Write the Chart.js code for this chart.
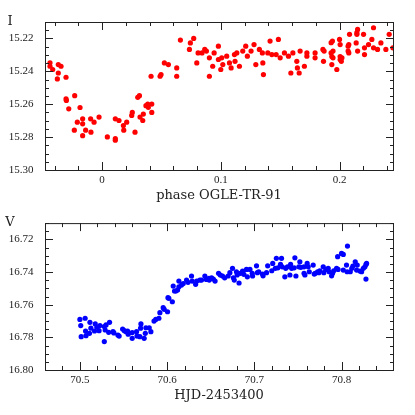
<!DOCTYPE html>
<html>
<head>
<meta charset="utf-8">
<script src="https://cdn.jsdelivr.net/npm/chart.js@4.4.1/dist/chart.umd.min.js"></script>
<style>
  html, body { margin: 0; padding: 0; background: #fff; }
  #wrap { position: relative; width: 415px; height: 415px; }
  canvas { position: absolute; left: 0; }
  #top { top: 0; }
  #bottom { top: 205px; }
</style>
</head>
<body>
<div id="wrap">
  <canvas id="top" width="415" height="205"></canvas>
  <canvas id="bottom" width="415" height="210"></canvas>
</div>
<script>
// I band, folded on the OGLE-TR-91 phase
const phase = [
  -0.0438, -0.0438, -0.0415, -0.0368, -0.0345, -0.0368, -0.0376, -0.0303, -0.0303, -0.0300,
  -0.0280, -0.0230, -0.0185, -0.0208, -0.0233, -0.0163, -0.0163, -0.0163, -0.0138, -0.0096,
  -0.0093, -0.0067, -0.0025, 0.0045, 0.0112, 0.0112, 0.0112, 0.0143, 0.0180, 0.0183,
  0.0208, 0.0250, 0.0255, 0.0278, 0.0301, 0.0315, 0.0320, 0.0348, 0.0343, 0.0370,
  0.0385, 0.0390, 0.0419, 0.0419, 0.0413, 0.0489, 0.0497, 0.0525, 0.0559, 0.0629,
  0.0629, 0.0660, 0.0736, 0.0744, 0.0772, 0.0798, 0.0809, 0.0842, 0.0865, 0.0879,
  0.0904, 0.0904, 0.0932, 0.0944, 0.0980, 0.0980, 0.1000, 0.1008, 0.1017, 0.1050,
  0.1073, 0.1087, 0.1115, 0.1135, 0.1120, 0.1157, 0.1185, 0.1210, 0.1224, 0.1255,
  0.1280, 0.1295, 0.1325, 0.1350, 0.1354, 0.1359, 0.1396, 0.1415, 0.1430, 0.1466,
  0.1485, 0.1500, 0.1536, 0.1570, 0.1590, 0.1607, 0.1640, 0.1645, 0.1660, 0.1668,
  0.1704, 0.1725, 0.1725, 0.1794, 0.1794, 0.1860, 0.1870, 0.1865, 0.1929, 0.1940,
  0.1929, 0.1945, 0.1935, 0.1945, 0.1935, 0.1977, 0.2000, 0.2005, 0.2005, 0.2020,
  0.2005, 0.2015, 0.2072, 0.2078, 0.2084, 0.2072, 0.2078, 0.2146, 0.2146, 0.2152,
  0.2140, 0.2152, 0.2202, 0.2210, 0.2210, 0.2244, 0.2272, 0.2286, 0.2286, 0.2320,
  0.2348, 0.2390, 0.2418, 0.2449
]
const magI = [
  15.2348, 15.2369, 15.2389, 15.2359, 15.2369, 15.2410, 15.2446, 15.2436, 15.2568, 15.2577,
  15.2628, 15.2548, 15.2620, 15.2709, 15.2758, 15.2689, 15.2719, 15.2791, 15.2758, 15.2689,
  15.2770, 15.2709, 15.2678, 15.2799, 15.2809, 15.2819, 15.2689, 15.2699, 15.2730, 15.2758,
  15.2709, 15.2668, 15.2650, 15.2770, 15.2558, 15.2548, 15.2678, 15.2660, 15.2699, 15.2609,
  15.2599, 15.2619, 15.2599, 15.2650, 15.2430, 15.2430, 15.2420, 15.2349, 15.2359, 15.2379,
  15.2430, 15.2210, 15.2267, 15.2227, 15.2200, 15.2349, 15.2288, 15.2288, 15.2267, 15.2277,
  15.2318, 15.2430, 15.2369, 15.2288, 15.2247, 15.2328, 15.2389, 15.2318, 15.2359, 15.2308,
  15.2349, 15.2379, 15.2298, 15.2288, 15.2339, 15.2369, 15.2277, 15.2247, 15.2308, 15.2277,
  15.2237, 15.2359, 15.2267, 15.2288, 15.2349, 15.2420, 15.2288, 15.2216, 15.2298, 15.2298,
  15.2206, 15.2318, 15.2288, 15.2308, 15.2410, 15.2288, 15.2339, 15.2379, 15.2410, 15.2277,
  15.2369, 15.2288, 15.2308, 15.2288, 15.2318, 15.2267, 15.2277, 15.2339, 15.2226, 15.2216,
  15.2288, 15.2277, 15.2310, 15.2318, 15.2359, 15.2389, 15.2206, 15.2237, 15.2310, 15.2318,
  15.2328, 15.2339, 15.2247, 15.2237, 15.2175, 15.2277, 15.2288, 15.2165, 15.2175, 15.2145,
  15.2227, 15.2277, 15.2175, 15.2257, 15.2298, 15.2237, 15.2206, 15.2135, 15.2257, 15.2267,
  15.2227, 15.2267, 15.2175, 15.2257
]

// V band, HJD - 2453400
const hjd = [
  70.5000, 70.5010, 70.5015, 70.5060, 70.5065, 70.5070, 70.5115, 70.5126, 70.5110, 70.5176,
  70.5168, 70.5195, 70.5220, 70.5230, 70.5280, 70.5300, 70.5280, 70.5290, 70.5340, 70.5330,
  70.5380, 70.5390, 70.5436, 70.5450, 70.5490, 70.5510, 70.5530, 70.5547, 70.5554, 70.5600,
  70.5600, 70.5650, 70.5655, 70.5696, 70.5700, 70.5688, 70.5737, 70.5750, 70.5757, 70.5795,
  70.5814, 70.5850, 70.5870, 70.5906, 70.5917, 70.5955, 70.5967, 70.6005, 70.6010, 70.6020,
  70.6060, 70.6070, 70.6085, 70.6100, 70.6120, 70.6135, 70.6135, 70.6165, 70.6185, 70.6223,
  70.6240, 70.6280, 70.6288, 70.6327, 70.6340, 70.6376, 70.6395, 70.6433, 70.6450, 70.6480,
  70.6510, 70.6530, 70.6550, 70.6483, 70.6590, 70.6610, 70.6636, 70.6660, 70.6700, 70.6720,
  70.6750, 70.6760, 70.6770, 70.6795, 70.6825, 70.6803, 70.6840, 70.6865, 70.6880, 70.6910,
  70.6920, 70.6950, 70.6976, 70.6980, 70.7025, 70.7035, 70.7050, 70.7094, 70.7100, 70.7140,
  70.7153, 70.7200, 70.7211, 70.7240, 70.7253, 70.7270, 70.7300, 70.7312, 70.7320, 70.7350,
  70.7360, 70.7380, 70.7408, 70.7416, 70.7428, 70.7457, 70.7465, 70.7477, 70.7511, 70.7522,
  70.7534, 70.7569, 70.7570, 70.7580, 70.7606, 70.7618, 70.7630, 70.7675, 70.7687, 70.7698,
  70.7725, 70.7740, 70.7750, 70.7790, 70.7797, 70.7820, 70.7847, 70.7858, 70.7886, 70.7897,
  70.7910, 70.7943, 70.7955, 70.7960, 70.8000, 70.8020, 70.8020, 70.8057, 70.8068, 70.8064,
  70.8100, 70.8118, 70.8130, 70.8157, 70.8173, 70.8180, 70.8211, 70.8230, 70.8250, 70.8268,
  70.8280, 70.8287, 70.8280
]
const magV = [
  16.7690, 16.7728, 16.7796, 16.7683, 16.7761, 16.7790, 16.7708, 16.7744, 16.7775, 16.7718,
  16.7761, 16.7738, 16.7759, 16.7728, 16.7734, 16.7724, 16.7826, 16.7755, 16.7708, 16.7769,
  16.7765, 16.7773, 16.7786, 16.7792, 16.7749, 16.7759, 16.7765, 16.7761, 16.7781, 16.7771,
  16.7806, 16.7765, 16.7792, 16.7744, 16.7718, 16.7796, 16.7806, 16.7775, 16.7741, 16.7741,
  16.7765, 16.7700, 16.7690, 16.7683, 16.7649, 16.7618, 16.7628, 16.7643, 16.7557, 16.7561,
  16.7582, 16.7486, 16.7516, 16.7516, 16.7510, 16.7490, 16.7455, 16.7480, 16.7470, 16.7449,
  16.7463, 16.7424, 16.7455, 16.7475, 16.7455, 16.7449, 16.7449, 16.7424, 16.7445, 16.7439,
  16.7435, 16.7443, 16.7455, 16.7449, 16.7408, 16.7418, 16.7424, 16.7435, 16.7424, 16.7404,
  16.7377, 16.7435, 16.7449, 16.7398, 16.7467, 16.7418, 16.7408, 16.7394, 16.7414, 16.7384,
  16.7429, 16.7384, 16.7408, 16.7424, 16.7362, 16.7404, 16.7398, 16.7412, 16.7423, 16.7404,
  16.7362, 16.7392, 16.7347, 16.7377, 16.7316, 16.7374, 16.7353, 16.7316, 16.7368, 16.7429,
  16.7377, 16.7368, 16.7418, 16.7353, 16.7377, 16.7374, 16.7313, 16.7424, 16.7368, 16.7337,
  16.7371, 16.7368, 16.7408, 16.7418, 16.7347, 16.7368, 16.7398, 16.7357, 16.7412, 16.7408,
  16.7398, 16.7404, 16.7392, 16.7368, 16.7404, 16.7384, 16.7377, 16.7398, 16.7423, 16.7408,
  16.7392, 16.7377, 16.7306, 16.7384, 16.7286, 16.7292, 16.7388, 16.7357, 16.7241, 16.7398,
  16.7398, 16.7377, 16.7363, 16.7337, 16.7388, 16.7357, 16.7394, 16.7398, 16.7377, 16.7368,
  16.7353, 16.7347, 16.7443
]

const INK = '#222'
const tickFont = { family: 'Liberation Serif', size: 11 }
const titleFont = { family: 'DejaVu Serif', size: 13 }

// box + inward major/minor ticks on all four sides, plus the band letter
const frameTicks = {
  id: 'frameTicks',
  afterDraw(chart, args, opts) {
    const { ctx, chartArea: a, scales } = chart
    ctx.save()
    ctx.strokeStyle = INK
    ctx.lineWidth = 1
    ctx.strokeRect(a.left + 0.5, a.top + 0.5, a.right - a.left, a.bottom - a.top)

    const line = (x1, y1, x2, y2) => {
      ctx.beginPath()
      ctx.moveTo(x1, y1)
      ctx.lineTo(x2, y2)
      ctx.stroke()
    }
    const mark = (scale, minor, major, horiz) => {
      const n0 = Math.ceil(scale.min / minor - 1e-6)
      const n1 = Math.floor(scale.max / minor + 1e-6)
      for (let k = n0; k <= n1; k++) {
        const v = k * minor
        const q = v / major
        const len = Math.abs(q - Math.round(q)) < 1e-6 ? 8 : 4
        const p = Math.round(scale.getPixelForValue(v)) + 0.5
        if (horiz) {
          line(p, a.top, p, a.top + len)
          line(p, a.bottom, p, a.bottom - len)
        } else {
          line(a.left, p, a.left + len, p)
          line(a.right + 1, p, a.right + 1 - len, p)
        }
      }
    }
    mark(scales.x, opts.xMinor, opts.xMajor, true)
    mark(scales.y, opts.yMinor, opts.yMajor, false)

    ctx.fillStyle = INK
    ctx.font = '13px "DejaVu Serif"'
    ctx.textAlign = 'center'
    ctx.textBaseline = 'middle'
    ctx.fillText(opts.band, a.left - 35, a.top)
    ctx.restore()
  }
}

function lightCurve(id, xs, ys, color, cfg) {
  const points = xs.map((x, i) => ({ x: x, y: ys[i] }))
  return new Chart(document.getElementById(id), {
    type: 'scatter',
    data: {
      datasets: [{
        data: points,
        backgroundColor: color,
        borderWidth: 0,
        pointRadius: 2.6,
        pointHoverRadius: 2.6,
      }],
    },
    options: {
      responsive: false,
      animation: false,
      devicePixelRatio: 1,
      layout: { padding: { top: cfg.padTop, right: 22, left: 0, bottom: 0 } },
      plugins: {
        legend: { display: false },
        tooltip: { enabled: false },
        frameTicks: cfg.frame,
      },
      scales: {
        x: {
          type: 'linear',
          min: cfg.xMin,
          max: cfg.xMax,
          grid: { display: false, drawTicks: false },
          border: { display: false },
          ticks: {
            stepSize: 0.1,
            includeBounds: false,
            autoSkip: false,
            maxRotation: 0,
            padding: 3.5,
            color: INK,
            font: tickFont,
            callback: cfg.xLabel,
          },
          title: {
            display: true,
            text: cfg.xTitle,
            color: INK,
            font: titleFont,
            padding: { top: 0, bottom: cfg.titlePad },
          },
          afterFit(s) { s.height = cfg.xHeight },
        },
        y: {
          type: 'linear',
          reverse: true,
          min: cfg.yMin,
          max: cfg.yMax,
          grid: { display: false, drawTicks: false },
          border: { display: false },
          ticks: {
            stepSize: 0.02,
            includeBounds: false,
            padding: 11.5,
            color: INK,
            font: tickFont,
            callback: v => v.toFixed(2),
          },
          afterFit(s) { s.width = 45 },
        },
      },
    },
    plugins: [frameTicks],
  })
}

lightCurve('top', phase, magI, '#ff0000', {
  padTop: 22, xHeight: 35, titlePad: 1.2,
  xMin: -0.048, xMax: 0.245, yMin: 15.21, yMax: 15.30,
  xTitle: 'phase OGLE-TR-91',
  xLabel: v => (Math.abs(v) < 1e-9 ? '0' : v.toFixed(1)),
  frame: { band: 'I', xMinor: 0.02, xMajor: 0.1, yMinor: 0.005, yMajor: 0.02 },
})

lightCurve('bottom', hjd, magV, '#0000ff', {
  padTop: 17, xHeight: 45, titlePad: 11.5,
  xMin: 70.46, xMax: 70.859, yMin: 16.71, yMax: 16.80,
  xTitle: 'HJD-2453400',
  xLabel: v => v.toFixed(1),
  frame: { band: 'V', xMinor: 0.02, xMajor: 0.1, yMinor: 0.005, yMajor: 0.02 },
})
</script>
</body>
</html>
